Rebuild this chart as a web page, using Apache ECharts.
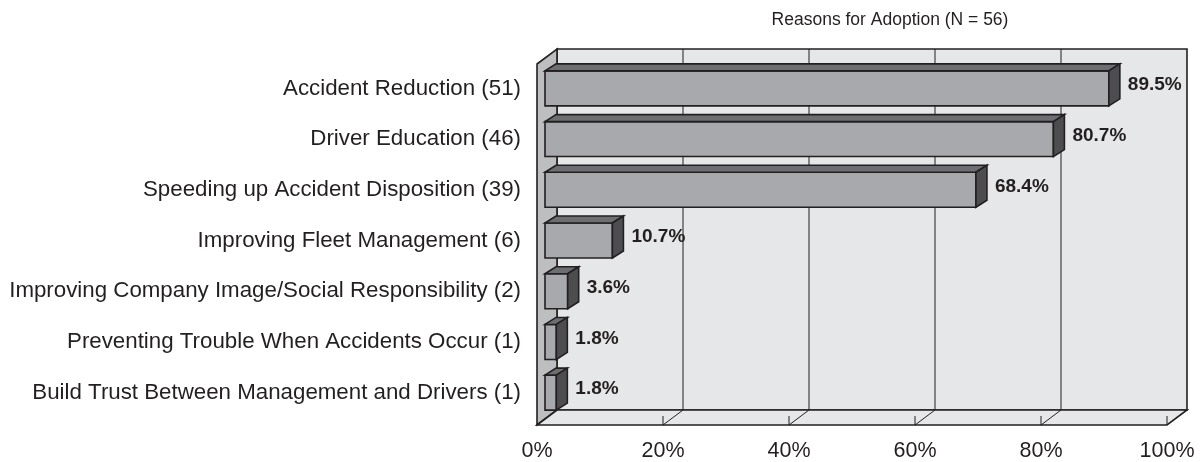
<!DOCTYPE html>
<html>
<head>
<meta charset="utf-8">
<script src="https://cdn.jsdelivr.net/npm/echarts@6/dist/echarts.min.js"></script>
<style>
  html, body { margin: 0; padding: 0; background: #ffffff; }
  #chart { width: 1202px; height: 462px; }
</style>
</head>
<body>
<div id="chart"></div>
<script>
// data
const categories = [
    'Accident Reduction (51)',
    'Driver Education (46)',
    'Speeding up Accident Disposition (39)',
    'Improving Fleet Management (6)',
    'Improving Company Image/Social Responsibility (2)',
    'Preventing Trouble When Accidents Occur (1)',
    'Build Trust Between Management and Drivers (1)'
]
const percents = [89.5, 80.7, 68.4, 10.7, 3.6, 1.8, 1.8]
const xTicks = [0, 20, 40, 60, 80, 100]
const titleText = 'Reasons for Adoption (N = 56)'

const FONT = '"Liberation Sans", Arial, Helvetica, sans-serif'
const INK = '#231f20'
// 3d offsets (pixels) of box planes relative to the bar front plane
const FRONT = [-8, 7]
const BACK = [12, -8]
const BAR_DEPTH = [11, -7]

// draws the box: back wall, left wall, floor and grid lines
function renderBox(params, api) {
    const cs = params.coordSys
    const top = cs.y - 6
    const bottom = cs.y + cs.height
    const x0 = api.coord([0, 0])[0]
    const x100 = api.coord([100, 0])[0]
    const children = [
        { type: 'polygon', shape: { points: [
            [x0 + BACK[0], top + BACK[1]], [x100 + BACK[0], top + BACK[1]],
            [x100 + BACK[0], bottom + BACK[1]], [x0 + BACK[0], bottom + BACK[1]]
        ] }, style: { fill: '#e6e7e8', stroke: INK, lineWidth: 1.6 } },
        { type: 'polygon', shape: { points: [
            [x0 + FRONT[0], top + FRONT[1]], [x0 + BACK[0], top + BACK[1]],
            [x0 + BACK[0], bottom + BACK[1]], [x0 + FRONT[0], bottom + FRONT[1]]
        ] }, style: { fill: '#bcbec0', stroke: INK, lineWidth: 1.6 } },
        { type: 'polygon', shape: { points: [
            [x0 + FRONT[0], bottom + FRONT[1]], [x0 + BACK[0], bottom + BACK[1]],
            [x100 + BACK[0], bottom + BACK[1]], [x100 + FRONT[0], bottom + FRONT[1]]
        ] }, style: { fill: '#e6e7e8', stroke: INK, lineWidth: 1.6 } }
    ]
    xTicks.forEach(v => {
        const x = api.coord([v, 0])[0]
        if (v > 0 && v < 100) {
            children.push({ type: 'line', shape: { x1: x + BACK[0], y1: top + BACK[1], x2: x + BACK[0], y2: bottom + BACK[1] }, style: { stroke: INK, lineWidth: 1 } })
            children.push({ type: 'line', shape: { x1: x + BACK[0], y1: bottom + BACK[1], x2: x + FRONT[0], y2: bottom + FRONT[1] }, style: { stroke: INK, lineWidth: 1 } })
        }
        if (v > 0) {
            children.push({ type: 'line', shape: { x1: x + FRONT[0], y1: bottom + FRONT[1] - 9, x2: x + FRONT[0], y2: bottom + FRONT[1] }, style: { stroke: INK, lineWidth: 1 } })
        }
    })
    return { type: 'group', children }
}

// one 3d bar: front face, top face, side face and value label
function renderBar(params, api) {
    const idx = api.value(1)
    const start = api.coord([0, idx])
    const end = api.coord([api.value(0), idx])
    const h = api.size([0, 1])[1] * 0.69
    const yt = start[1] - h / 2
    const yb = start[1] + h / 2
    const xs = start[0]
    const xe = end[0]
    const [dx, dy] = BAR_DEPTH
    return {
        type: 'group',
        children: [
            { type: 'rect', shape: { x: xs, y: yt, width: xe - xs, height: h },
              style: { fill: '#a7a9ac', stroke: INK, lineWidth: 1.6 } },
            { type: 'polygon', shape: { points: [[xs, yt], [xs + dx, yt + dy], [xe + dx, yt + dy], [xe, yt]] },
              style: { fill: '#6d6e71', stroke: INK, lineWidth: 1.6 } },
            { type: 'polygon', shape: { points: [[xe, yt], [xe + dx, yt + dy], [xe + dx, yb + dy], [xe, yb]] },
              style: { fill: '#4d4d4f', stroke: INK, lineWidth: 1.6 } },
            { type: 'text', style: {
                x: xe + dx + 8, y: start[1] + dy / 2,
                text: api.value(0).toFixed(1) + '%',
                fill: INK, font: 'bold 19px ' + FONT,
                align: 'left', verticalAlign: 'middle'
            } }
        ]
    }
}

const chart = echarts.init(document.getElementById('chart'))
const option = {
    animation: false,
    backgroundColor: '#ffffff',
    title: {
        text: titleText,
        left: 885,
        top: 6,
        textAlign: 'center',
        textStyle: { color: INK, fontSize: 17.5, fontWeight: 'normal', fontFamily: FONT }
    },
    grid: { left: 545, top: 63, width: 630, height: 357 },
    xAxis: {
        type: 'value',
        min: 0,
        max: 100,
        interval: 20,
        axisLine: { show: false },
        axisTick: { show: false },
        splitLine: { show: false },
        axisLabel: {
            formatter: '{value}%',
            color: INK,
            fontSize: 21.5,
            fontFamily: FONT,
            margin: 22,
            padding: [0, 16, 0, 0]
        }
    },
    yAxis: {
        type: 'category',
        inverse: true,
        data: categories,
        axisLine: { show: false },
        axisTick: { show: false },
        axisLabel: {
            color: INK,
            fontSize: 22.3,
            fontFamily: FONT,
            margin: 24
        }
    },
    series: [
        {
            type: 'custom',
            renderItem: renderBox,
            data: [[0, 0]],
            encode: { x: 0, y: 1 },
            silent: true,
            z: 1
        },
        {
            type: 'custom',
            renderItem: renderBar,
            data: percents.map((v, i) => [v, i]),
            encode: { x: 0, y: 1 },
            z: 2
        }
    ]
}
chart.setOption(option)
</script>
</body>
</html>
